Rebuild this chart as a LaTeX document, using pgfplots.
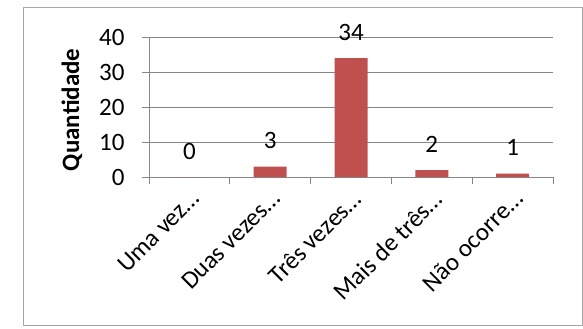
\documentclass[border=0pt]{standalone}
\usepackage{pgfplots}
\pgfplotsset{compat=1.18}
\usepackage{fontspec}
\setmainfont{Carlito}
\definecolor{barred}{HTML}{C0504D}
\definecolor{gridgray}{HTML}{868686}
\definecolor{framegray}{HTML}{A6A6A6}
\newcommand\chartfont{\fontsize{25bp}{30bp}\selectfont}
\begin{document}
\begin{tikzpicture}[x=1bp,y=1bp]
\path (0,0) rectangle (583,-328);
\draw[framegray, line width=1bp] (23,-7) rectangle (582,-325);
\begin{axis}[
  at={(149bp,-177bp)}, anchor=south west,
  scale only axis, width=404bp, height=140bp,
  xmin=-0.5, xmax=4.5, ymin=0, ymax=40,
  ytick={0,10,20,30,40},
  xtick={-0.5,0.5,1.5,2.5,3.5,4.5},
  x tick label as interval,
  xticklabels={Uma vez…, Duas vezes…, Três vezes…, Mais de três…, Não ocorre…},
  axis x line*=bottom, axis y line*=left,
  axis line style={gridgray, line width=1bp, -},
  ymajorgrids, grid style={gridgray, line width=1bp},
  major tick length=7bp, tick align=outside,
  tick style={gridgray, line width=1bp},
  ybar, bar width=33bp,
  nodes near coords,
  every node near coord/.append style={font=\chartfont, anchor=base, yshift=18bp, text=black},
  font=\chartfont,
  ticklabel style={font=\chartfont, text=black},
  /pgf/number format/assume math mode=true,
  xticklabel style={anchor=north east, rotate=45},
  yticklabel style={anchor=east, xshift=-14bp},
  ylabel={\textbf{Quantidade}},
  ylabel style={at={(axis description cs:-0.1906,0.48)}, anchor=center, font=\chartfont},
]
\addplot[fill=barred, draw=none] coordinates {(0,0) (1,3) (2,34) (3,2) (4,1)};
\end{axis}
\end{tikzpicture}
\end{document}
